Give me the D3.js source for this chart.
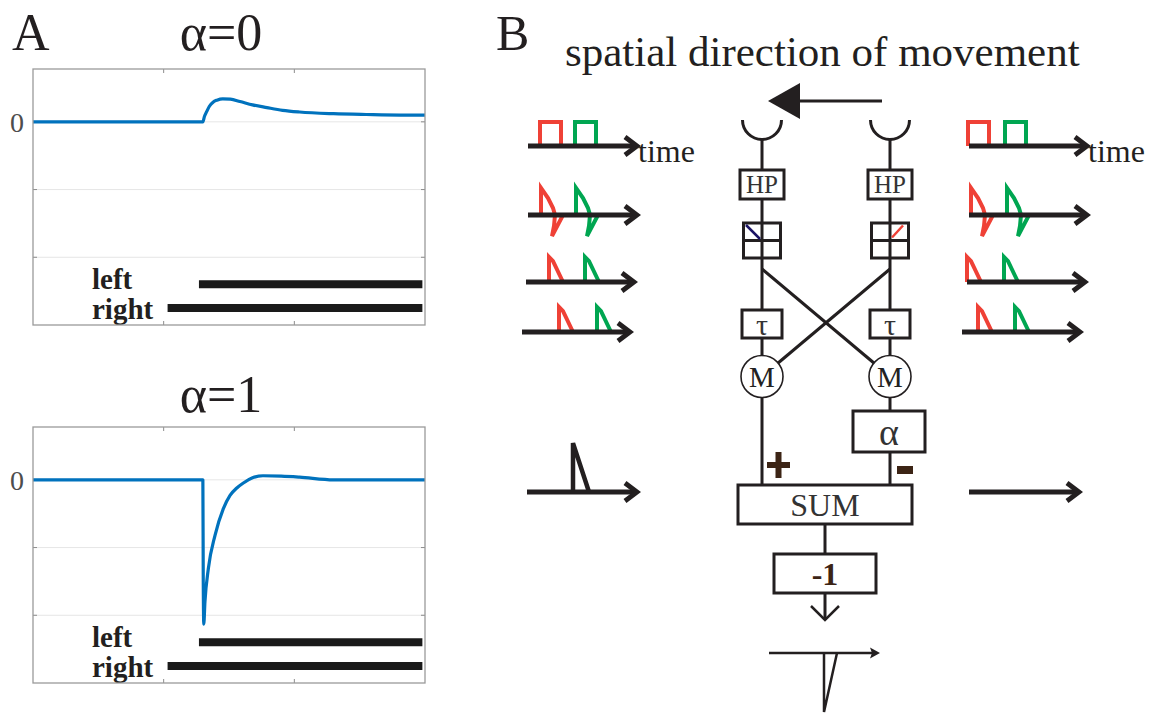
<!DOCTYPE html>
<html>
<head>
<meta charset="utf-8">
<script src="https://cdn.jsdelivr.net/npm/d3@7"></script>
<style>
body{margin:0;background:#fff}
svg{display:block}
text{font-family:"Liberation Serif","Times New Roman",serif}
</style>
</head>
<body>
<div id="fig"></div>
<script>
// ---- panel A data ----
var panelTitles = ["α=0", "α=1"];
var xTicks = [1, 2];
var yTicks = [0, -1, -2];
var topT = [0, 1.30, 1.312, 1.329, 1.35, 1.378, 1.408, 1.452, 1.51, 1.584, 1.68, 1.79, 1.91, 2.04, 2.30, 2.55, 2.81, 3.0];
var topV = [0, 0, 0.08, 0.15, 0.23, 0.29, 0.32, 0.34, 0.335, 0.30, 0.25, 0.21, 0.17, 0.145, 0.12, 0.108, 0.10, 0.10];
var botT = [0, 1.300, 1.303, 1.307, 1.316, 1.342, 1.393, 1.456, 1.508, 1.56, 1.607, 1.68, 1.76, 1.90, 2.04, 2.30, 2.6, 3.0];
var botV = [0, 0, -1.5, -2.13, -1.80, -1.31, -0.82, -0.43, -0.23, -0.12, -0.05, 0.03, 0.06, 0.055, 0.04, 0.0, 0, 0];
var stimNames = ["left", "right"];
var stimOn = [1.27, 1.03];
var stimOff = [2.98, 2.98];
var stimLevel = [-2.40, -2.75];

// ---- panel B data ----
var rowNames = ["input", "highpass", "rectified", "delayed", "output"];
var rowShapes = ["pulse", "biphasic", "decay", "decay"];
var leftArrow = [[8, 117], [8, 117], [6, 114], [2, 110], [7, 117]];
var rightArrow = [[9, 127], [9, 127], [7, 125], [2, 120], [9, 119]];
var leftRed = [20, 21, 29, 39], leftGreen = [55, 56, 65, 77];
var rightRed = [8, 11, 7, 18], rightGreen = [45, 47, 44, 55];
var leftOutOnset = 53;
var finalOnset = 55;
var shapes = {
  pulse: [[0, 0], [0, 0.92], [21, 0.92], [21, 0]],
  biphasic: [[0, 0], [0, 1.04], [7, 0.65], [12, 0.27], [14, 0], [13, -0.42], [11, -0.81], [22, 0]],
  decay: [[0, 0], [0, 0.96], [4, 0.8], [14, 0]],
  spike: [[0, 0], [0, 1.88], [16, 0]],
  negSpike: [[0, 0], [0, -2.27], [13, 0]]
};

var RED = "#ef4136", GREEN = "#00a651", INK = "#231f20", BROWN = "#3c2415", BLUE = "#0072bd";

var svg = d3.select("#fig").append("svg")
  .attr("width", 1155)
  .attr("height", 714)
  .style("background", "#fff");

// ================= panel A =================
svg.append("text").attr("x", 12).attr("y", 50).attr("font-size", 52).attr("fill", INK).text("A");

var W = 392, H = 256;
var x = d3.scaleLinear().domain([0, 3]).range([0, W]);
var y = d3.scaleLinear().domain([-3, 0.78]).range([H, 0]);

function drawPanel(top, title, titleDy, T, V) {
  var g = svg.append("g").attr("transform", "translate(33," + top + ")");

  g.append("text")
    .attr("x", 188).attr("y", titleDy)
    .attr("text-anchor", "middle")
    .attr("font-size", 52)
    .attr("fill", INK)
    .text(title);

  g.selectAll(".grid").data(yTicks).enter().append("line")
    .attr("x1", 0).attr("x2", W)
    .attr("y1", d => y(d)).attr("y2", d => y(d))
    .attr("stroke", "#e6e6e6").attr("stroke-width", 1);

  // inward ticks on all four sides
  xTicks.forEach(function(t) {
    g.append("line").attr("x1", x(t)).attr("x2", x(t)).attr("y1", 0).attr("y2", 4).attr("stroke", "#8c8c8c");
    g.append("line").attr("x1", x(t)).attr("x2", x(t)).attr("y1", H).attr("y2", H - 4).attr("stroke", "#8c8c8c");
  });
  yTicks.forEach(function(t) {
    g.append("line").attr("x1", 0).attr("x2", 4).attr("y1", y(t)).attr("y2", y(t)).attr("stroke", "#8c8c8c");
    g.append("line").attr("x1", W).attr("x2", W - 4).attr("y1", y(t)).attr("y2", y(t)).attr("stroke", "#8c8c8c");
  });

  g.append("text")
    .attr("x", -9).attr("y", y(0) + 10)
    .attr("text-anchor", "end")
    .attr("font-size", 28)
    .attr("fill", "#4d4d4d")
    .text("0");

  var pts = T.map((t, i) => [t, V[i]]);
  g.append("path")
    .datum(pts)
    .attr("fill", "none")
    .attr("stroke", BLUE)
    .attr("stroke-width", 3.2)
    .attr("stroke-linejoin", "round")
    .attr("d", d3.line().x(d => x(d[0])).y(d => y(d[1])).curve(d3.curveMonotoneX));

  stimNames.forEach(function(name, i) {
    g.append("line")
      .attr("x1", x(stimOn[i])).attr("x2", x(stimOff[i]))
      .attr("y1", y(stimLevel[i])).attr("y2", y(stimLevel[i]))
      .attr("stroke", "#1a1a1a").attr("stroke-width", 8);
    g.append("text")
      .attr("x", 59).attr("y", y(stimLevel[i]) + (i ? 11 : 5))
      .attr("font-size", 29).attr("font-weight", "bold")
      .attr("fill", INK)
      .text(name);
  });

  g.append("rect")
    .attr("width", W).attr("height", H)
    .attr("fill", "none")
    .attr("stroke", "#9a9a9a").attr("stroke-width", 1.3);
}

drawPanel(69, panelTitles[0], -19, topT, topV);
drawPanel(427, panelTitles[1], -15, botT, botV);

// ================= panel B =================
svg.append("text").attr("x", 496).attr("y", 50).attr("font-size", 50).attr("fill", INK).text("B");
svg.append("text").attr("x", 565).attr("y", 66).attr("font-size", 43).attr("fill", INK)
  .text("spatial direction of movement");

var rowY = d3.scaleOrdinal().domain(rowNames).range([146, 215, 282, 332, 492]);
var amp = d3.scaleLinear().domain([-1, 1]).range([26, -26]);
var leftT = d3.scaleLinear().domain([0, 120]).range([520, 640]);
var rightT = d3.scaleLinear().domain([0, 120]).range([960, 1080]);

function timeArrow(tS, row, ext, w) {
  var x0 = tS(ext[0]), x1 = tS(ext[1]), yy = rowY(row);
  svg.append("line").attr("x1", x0).attr("x2", x1 - 3).attr("y1", yy).attr("y2", yy)
    .attr("stroke", INK).attr("stroke-width", w);
  svg.append("path")
    .attr("d", "M" + (x1 - 12) + "," + (yy - 9) + "L" + x1 + "," + yy + "L" + (x1 - 12) + "," + (yy + 9))
    .attr("fill", "none").attr("stroke", INK).attr("stroke-width", w)
    .attr("stroke-linejoin", "miter").attr("stroke-miterlimit", 6);
}

function glyph(tS, row, onset, shape, color, w) {
  var yy = rowY(row);
  svg.append("path")
    .datum(shapes[shape])
    .attr("fill", "none")
    .attr("stroke", color)
    .attr("stroke-width", w)
    .attr("stroke-linejoin", "miter")
    .attr("d", d3.line().x(d => tS(onset + d[0])).y(d => yy + amp(d[1])));
}

rowShapes.forEach(function(shape, i) {
  var row = rowNames[i];
  glyph(leftT, row, leftRed[i], shape, RED, 4);
  glyph(leftT, row, leftGreen[i], shape, GREEN, 4);
  glyph(rightT, row, rightRed[i], shape, RED, 4);
  glyph(rightT, row, rightGreen[i], shape, GREEN, 4);
  timeArrow(leftT, row, leftArrow[i], 4.8);
  timeArrow(rightT, row, rightArrow[i], 4.8);
});
glyph(leftT, "output", leftOutOnset, "spike", INK, 4.5);
timeArrow(leftT, "output", leftArrow[4], 4.8);
timeArrow(rightT, "output", rightArrow[4], 4.8);

svg.append("text").attr("x", leftT(leftArrow[0][1]) + 1).attr("y", 162).attr("font-size", 32).attr("fill", INK).text("time");
svg.append("text").attr("x", rightT(rightArrow[0][1]) + 1).attr("y", 162).attr("font-size", 32).attr("fill", INK).text("time");

// ---- detector circuit ----
var colX = d3.scaleOrdinal().domain(["left", "right"]).range([762, 890]);
var stageY = d3.scaleOrdinal()
  .domain(["dir", "cup", "hp", "grid", "split", "tau", "mult", "alpha", "sum", "invert", "out"])
  .range([101, 120, 184.5, 240.5, 269, 324, 376.5, 431.5, 504.5, 573.5, 620]);
var midX = 825;
var circ = svg.append("g");

// direction arrow
circ.append("line").attr("x1", 882).attr("x2", 796).attr("y1", stageY("dir")).attr("y2", stageY("dir"))
  .attr("stroke", INK).attr("stroke-width", 3);
circ.append("path")
  .attr("d", "M768," + stageY("dir") + "L800," + (stageY("dir") - 18) + "L800," + (stageY("dir") + 18) + "Z")
  .attr("fill", INK);

var R = 21;
["left", "right"].forEach(function(side) {
  var cx = colX(side);
  var p = d3.path();
  p.arc(cx, stageY("cup"), 19.5, Math.PI, 0, true);
  circ.append("path").attr("d", p.toString()).attr("fill", "none").attr("stroke", INK).attr("stroke-width", 3);
  circ.append("line").attr("x1", cx).attr("x2", cx).attr("y1", stageY("cup") + 19.5).attr("y2", stageY("mult") - R)
    .attr("stroke", INK).attr("stroke-width", 3);
  circ.append("line").attr("x1", cx).attr("x2", cx).attr("y1", stageY("mult") + R).attr("y2", stageY("sum") - 19.5)
    .attr("stroke", INK).attr("stroke-width", 3);
});

// crossed connections
[["left", "right"], ["right", "left"]].forEach(function(pair) {
  var x0 = colX(pair[0]), y0 = stageY("split");
  var cx = colX(pair[1]), cy = stageY("mult");
  var dx = cx - x0, dy = cy - y0, L = Math.sqrt(dx * dx + dy * dy);
  circ.append("line").attr("x1", x0).attr("y1", y0)
    .attr("x2", cx - R * dx / L).attr("y2", cy - R * dy / L)
    .attr("stroke", INK).attr("stroke-width", 3);
});

function box(cx, cy, w, h, label, size, color, weight) {
  circ.append("rect").attr("x", cx - w / 2).attr("y", cy - h / 2).attr("width", w).attr("height", h)
    .attr("fill", "#fff").attr("stroke", INK).attr("stroke-width", 3);
  if (label) {
    circ.append("text").attr("x", cx).attr("y", cy).attr("dy", "0.35em")
      .attr("text-anchor", "middle").attr("font-size", size)
      .attr("font-weight", weight || "normal")
      .attr("fill", color || "#333").text(label);
  }
}

["left", "right"].forEach(function(side) {
  var cx = colX(side);
  box(cx, stageY("hp"), 44, 29, "HP", 25);
  box(cx, stageY("grid"), 37, 35);
  circ.append("line").attr("x1", cx - 18.5).attr("x2", cx + 18.5).attr("y1", stageY("grid")).attr("y2", stageY("grid"))
    .attr("stroke", INK).attr("stroke-width", 3);
  circ.append("line").attr("x1", cx).attr("x2", cx).attr("y1", stageY("grid") - 17.5).attr("y2", stageY("grid") + 17.5)
    .attr("stroke", INK).attr("stroke-width", 3);
  box(cx, stageY("tau"), 40, 28, "τ", 30);
  circ.append("circle").attr("cx", cx).attr("cy", stageY("mult")).attr("r", R)
    .attr("fill", "#fff").attr("stroke", INK).attr("stroke-width", 1.6);
  circ.append("text").attr("x", cx).attr("y", stageY("mult")).attr("dy", "0.35em")
    .attr("text-anchor", "middle").attr("font-size", 29).attr("fill", "#222").text("M");
});

// rectifier marks in the grid boxes
var gl = colX("left"), gr = colX("right"), gy = stageY("grid");
circ.append("line").attr("x1", gl - 16).attr("y1", gy - 15.5).attr("x2", gl - 2).attr("y2", gy - 1.5)
  .attr("stroke", "#1b1464").attr("stroke-width", 2.5);
circ.append("line").attr("x1", gr + 2).attr("y1", gy - 3).attr("x2", gr + 13).attr("y2", gy - 15)
  .attr("stroke", RED).attr("stroke-width", 2.5);

box(889, stageY("alpha"), 72, 41, "α", 38);
box(midX, stageY("sum"), 174, 39, "SUM", 32);
circ.append("line").attr("x1", midX).attr("x2", midX).attr("y1", stageY("sum") + 19.5).attr("y2", stageY("out"))
  .attr("stroke", INK).attr("stroke-width", 3);
box(midX, stageY("invert"), 102, 39, "-1", 32, BROWN, "bold");
circ.append("path")
  .attr("d", "M" + (midX - 14) + "," + (stageY("out") - 14) + "L" + midX + "," + stageY("out") + "L" + (midX + 14) + "," + (stageY("out") - 14))
  .attr("fill", "none").attr("stroke", INK).attr("stroke-width", 2.5);

// plus / minus signs
circ.append("rect").attr("x", 767).attr("y", 462).attr("width", 23).attr("height", 6).attr("fill", BROWN);
circ.append("rect").attr("x", 775.5).attr("y", 452).attr("width", 6).attr("height", 26).attr("fill", BROWN);
circ.append("rect").attr("x", 897).attr("y", 466).attr("width", 16).attr("height", 8).attr("fill", BROWN);

// final output trace
var outT = d3.scaleLinear().domain([0, 111]).range([769, 880]);
var outY = 653;
circ.append("line").attr("x1", outT(0)).attr("x2", outT(104)).attr("y1", outY).attr("y2", outY)
  .attr("stroke", INK).attr("stroke-width", 2.5);
circ.append("path")
  .attr("d", "M" + outT(111) + "," + outY + "L" + outT(101) + "," + (outY - 5.5) + "L" + outT(103) + "," + outY + "L" + outT(101) + "," + (outY + 5.5) + "Z")
  .attr("fill", INK);
circ.append("path")
  .datum(shapes.negSpike)
  .attr("fill", "none").attr("stroke", INK).attr("stroke-width", 2.5)
  .attr("d", d3.line().x(d => outT(finalOnset + d[0])).y(d => outY + amp(d[1])));
</script>
</body>
</html>
